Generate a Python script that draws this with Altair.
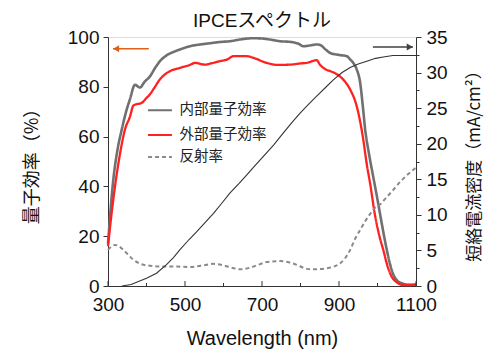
import altair as alt
import pandas as pd

# ---------------- data ----------------
iqe_wl = [300, 314, 325, 336, 347, 357, 370, 383, 395, 409, 422, 435, 452, 470, 487, 513, 539,
          565, 591, 617, 643, 677, 700, 720, 747, 775, 795, 807, 825, 842, 851, 865, 877, 900,
          920, 929, 937, 946, 955, 962, 968, 978, 990, 1002, 1010, 1019, 1032, 1040, 1050,
          1065, 1080, 1100]
iqe_val = [17, 43, 55, 63, 70, 75, 80.8, 79.7, 82, 84.2, 87.5, 90.3, 92.6, 94, 95, 96.3, 97,
           97.5, 98, 98.3, 99, 99.5, 99.4, 99, 98.3, 98, 97.3, 96.3, 96.6, 97, 96.8, 95, 93.6,
           92.8, 92.3, 91, 89.6, 87, 81.6, 72, 62.8, 53, 43, 33, 26, 18.5, 9.1, 5, 2.4, 1,
           0.5, 0.5]

eqe_wl = [300, 310, 320, 330, 344, 357, 366, 374, 387, 400, 409, 422, 435, 448, 461, 487, 513,
          526, 552, 570, 591, 610, 626, 660, 680, 712, 740, 773, 800, 816, 842, 850, 865, 877,
          895, 911, 929, 946, 955, 963, 972, 981, 994, 1005, 1015, 1025, 1037, 1050, 1067,
          1085, 1100]
eqe_val = [16, 30, 42, 52, 62.8, 68, 72.5, 73, 73.5, 75.5, 77, 80, 83, 85, 86.3, 87.6, 88.8,
           89.6, 88.9, 89.5, 90.3, 91, 92.3, 92.3, 91.5, 89.6, 88.8, 88.9, 89.4, 89.6, 90.7,
           89, 87, 86.3, 85, 82.9, 78.9, 72.2, 66, 58.8, 49, 41, 28, 20, 14.5, 8.5, 3.7, 1.5,
           0.4, 0.4, 0.8]

ref_wl = [300, 310, 318, 330, 340, 353, 366, 380, 392, 420, 444, 480, 513, 540, 574, 600, 625,
          643, 670, 690, 712, 747, 770, 790, 810, 825, 848, 868, 890, 903, 915, 929, 942, 955,
          968, 981, 994, 1006, 1020, 1041, 1060, 1080, 1093, 1100]
ref_val = [14.5, 16, 16.5, 15.8, 14.5, 12.5, 10.5, 9.2, 8.5, 8, 7.8, 7.8, 7.6, 8.1, 8.9, 8.3,
           7.2, 6.7, 7.4, 8.5, 9.6, 10, 9.5, 8.5, 7.2, 6.7, 6.8, 7.1, 8, 9.1, 11, 14.5, 19,
           22.5, 26, 29, 31.5, 32.6, 35, 38.6, 42, 45, 46.7, 47.5]

jsc_wl = [336, 360, 400, 426, 452, 470, 487, 510, 530, 552, 574, 595, 617, 640, 660, 680, 703,
          730, 755, 778, 799, 820, 842, 865, 886, 908, 929, 950, 972, 995, 1015, 1040, 1058, 1100]
jsc_val = [0, 0.2, 1.08, 1.8, 3.0, 4, 5.1, 6.5, 7.6, 8.9, 10.2, 11.6, 13.1, 14.4, 15.6, 16.8,
           18.2, 19.8, 21.5, 23, 24.3, 25.5, 26.7, 27.9, 29.0, 30, 30.7, 31.2, 31.6, 32, 32.2,
           32.4, 32.4, 32.4]

series_names = ["内部量子効率", "外部量子効率", "反射率"]
series_colors = ["#707070", "#ff2020", "#8a8a8a"]
series_dash = [[1, 0], [1, 0], [4, 3]]
series_width = [2.6, 2.0, 2.0]

# legend placement in data units (wavelength, left-axis value)
legend_line_wl = [404, 466]
legend_text_wl = 486
legend_levels = [70.6, 60.6, 51.8]

x_label_values = [300, 500, 700, 900, 1100]
x_minor_values = [400, 600, 800, 1000]
left_tick_values = list(range(0, 101, 10))
right_tick_values = [i * 2.5 for i in range(15)]

# arrows: (start wavelength, tip wavelength, level on left axis)
left_arrow = [406, 313, 95.3]
right_arrow = [988, 1092, 96.0]

FONT = "Liberation Sans, Arial, Noto Sans CJK JP"
JFONT = "Noto Sans CJK JP"

# ---------------- tables ----------------
rows = []
for name, wl, val in [(series_names[0], iqe_wl, iqe_val),
                      (series_names[1], eqe_wl, eqe_val),
                      (series_names[2], ref_wl, ref_val)]:
    for i, (w, v) in enumerate(zip(wl, val)):
        rows.append({"series": name, "wl": w, "val": v, "order": i})
qe_df = pd.DataFrame(rows)
jsc_df = pd.DataFrame({"wl": jsc_wl, "jsc": jsc_val})

leg_rows = []
for name, lvl in zip(series_names, legend_levels):
    leg_rows.append({"series": name, "wl": legend_line_wl[0], "val": lvl, "order": 0})
    leg_rows.append({"series": name, "wl": legend_line_wl[1], "val": lvl, "order": 1})
leg_df = pd.DataFrame(leg_rows)
leg_txt_df = pd.DataFrame({"series": series_names, "wl": [legend_text_wl] * 3,
                           "val": legend_levels})

x_scale = alt.Scale(domain=[300, 1100], nice=False, zero=False)
yl_scale = alt.Scale(domain=[0, 100], nice=False)
yr_scale = alt.Scale(domain=[0, 35], nice=False)
c_scale = alt.Scale(domain=series_names, range=series_colors)
d_scale = alt.Scale(domain=series_names, range=series_dash)
w_scale = alt.Scale(domain=series_names, range=series_width)

x_enc = alt.X("wl:Q", scale=x_scale,
              axis=alt.Axis(values=x_label_values, ticks=False, tickSize=0, grid=False,
                            format="d",
                            title="Wavelength (nm)", labelFontSize=19, titleFontSize=20,
                            labelFont=FONT, titleFont=FONT, titleFontWeight="normal",
                            labelPadding=9, titlePadding=14, domainColor="#333",
                            labelColor="#111", titleColor="#111", labelFlush=False))

left_axis = alt.Axis(values=left_tick_values, grid=False,
                     labelExpr="datum.value % 20 == 0 ? datum.label : ''",
                     tickSize={"condition": {"test": "datum.value % 20 != 0", "value": 3}, "value": 5},
                     title="量子効率（%）", titleFont=JFONT, titleFontSize=18,
                     titleFontWeight="normal", labelFontSize=19, labelFont=FONT,
                     labelPadding=4, titlePadding=26, domainColor="#333", tickColor="#333",
                     labelColor="#111", titleColor="#111", orient="left")

right_axis = alt.Axis(values=right_tick_values, grid=False,
                      labelExpr="datum.value % 5 == 0 ? datum.label : ''",
                      tickSize={"condition": {"test": "datum.value % 5 != 0", "value": 3}, "value": 5},
                      title="短絡電流密度（mA/cm²）", titleFont=JFONT, titleFontSize=17,
                      titleFontWeight="normal", labelFontSize=19, labelFont=FONT,
                      labelPadding=5, titlePadding=36, titleAngle=270, domainColor="#333",
                      tickColor="#333", labelColor="#111", titleColor="#111", orient="right")

qe_lines = alt.Chart(qe_df).mark_line(interpolate="monotone").encode(
    x=x_enc,
    y=alt.Y("val:Q", scale=yl_scale, axis=left_axis),
    color=alt.Color("series:N", scale=c_scale, legend=None),
    strokeDash=alt.StrokeDash("series:N", scale=d_scale, legend=None),
    strokeWidth=alt.StrokeWidth("series:N", scale=w_scale, legend=None),
    order="order:Q",
)

legend_lines = alt.Chart(leg_df).mark_line().encode(
    x=alt.X("wl:Q", scale=x_scale),
    y=alt.Y("val:Q", scale=yl_scale),
    color=alt.Color("series:N", scale=c_scale, legend=None),
    strokeDash=alt.StrokeDash("series:N", scale=d_scale, legend=None),
    strokeWidth=alt.value(2),
    detail="series:N",
    order="order:Q",
)
legend_text = alt.Chart(leg_txt_df).mark_text(
    align="left", baseline="middle", font=JFONT, fontSize=14.5, color="#222"
).encode(x=alt.X("wl:Q", scale=x_scale), y=alt.Y("val:Q", scale=yl_scale), text="series:N")

# inward x ticks
xt_df = pd.DataFrame({"wl": x_label_values + x_minor_values,
                      "kind": ["major"] * len(x_label_values) + ["minor"] * len(x_minor_values)})
x_ticks_major = alt.Chart(xt_df).transform_filter("datum.kind == 'major'").mark_rule(
    color="#333", strokeWidth=1).encode(x=alt.X("wl:Q", scale=x_scale), y=alt.value(249),
                                        y2=alt.value(244))
x_ticks_minor = alt.Chart(xt_df).transform_filter("datum.kind == 'minor'").mark_rule(
    color="#333", strokeWidth=1).encode(x=alt.X("wl:Q", scale=x_scale), y=alt.value(249),
                                        y2=alt.value(246))

# arrows
arr_df = pd.DataFrame({
    "x": [left_arrow[0], right_arrow[0]], "x2": [left_arrow[1], right_arrow[1]],
    "y": [left_arrow[2], right_arrow[2]], "c": ["#e0601a", "#404040"]})
arrow_lines = alt.Chart(arr_df).mark_rule(strokeWidth=1.6).encode(
    x=alt.X("x:Q", scale=x_scale), x2="x2:Q", y=alt.Y("y:Q", scale=yl_scale),
    color=alt.Color("c:N", scale=None))
head_df = pd.DataFrame({"x": [left_arrow[1] + 8, right_arrow[1] - 8],
                        "y": [left_arrow[2], right_arrow[2]],
                        "c": ["#e0601a", "#404040"],
                        "shape": ["triangle-left", "triangle-right"]})
arrow_heads = alt.Chart(head_df).mark_point(filled=True, size=50, opacity=1).encode(
    x=alt.X("x:Q", scale=x_scale), y=alt.Y("y:Q", scale=yl_scale),
    color=alt.Color("c:N", scale=None), shape=alt.Shape("shape:N", scale=None))

left_layer = alt.layer(qe_lines, legend_lines, legend_text, x_ticks_major, x_ticks_minor,
                       arrow_lines, arrow_heads)

jsc_line = alt.Chart(jsc_df).mark_line(color="#333", strokeWidth=1.1).encode(
    x=alt.X("wl:Q", scale=x_scale),
    y=alt.Y("jsc:Q", scale=yr_scale, axis=right_axis),
)

chart = alt.layer(left_layer, jsc_line).resolve_scale(
    y="independent"
).properties(
    width=308, height=249,
    padding={"left": 108, "top": 37, "right": 84, "bottom": 71},
    autosize=alt.AutoSizeParams(type="none"),
    title=alt.TitleParams("IPCEスペクトル", font=FONT, fontSize=19, fontWeight="normal",
                          color="#111", offset=-3, anchor="middle"),
).configure_view(stroke="#333", strokeWidth=1.4).configure(background="white")

chart.save("out.html", embed_options={"renderer": "svg", "actions": False})
